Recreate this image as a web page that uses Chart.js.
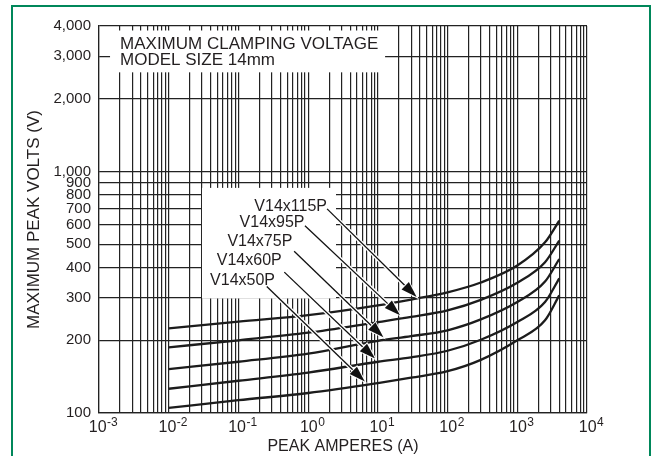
<!DOCTYPE html>
<html><head><meta charset="utf-8">
<script src="https://cdn.jsdelivr.net/npm/chart.js@4.4.1/dist/chart.umd.min.js"></script>
<style>html,body{margin:0;padding:0;background:#fff;overflow:hidden}</style>
</head><body>
<canvas id="c" width="662" height="456"></canvas>
<script>
// ---- data ----
const amps = [0.01, 0.1, 1, 10, 30, 100, 300, 1000, 2500, 4000];
const seriesNames = ['V14x115P', 'V14x95P', 'V14x75P', 'V14x60P', 'V14x50P'];
const v115 = [224, 239, 254, 279, 295, 316, 347, 408, 509, 625];
const v95  = [187, 200, 215, 238, 250, 266, 294, 346, 421, 517];
const v75  = [152, 163, 176, 199, 208, 220, 244, 288, 350, 434];
const v60  = [126, 136, 147, 163, 170, 181, 201, 238, 288, 361];
const v50  = [105, 113, 121, 133, 140, 149, 166, 200, 242, 307];
const seriesValues = [v115, v95, v75, v60, v50];

const yTickValues = [100, 200, 300, 400, 500, 600, 700, 800, 900, 1000, 2000, 3000, 4000];
const xDecades = [-3, -2, -1, 0, 1, 2, 3, 4];
const xMantissas = [1, 2, 3, 4, 5, 6, 7, 8, 9];

const titleLines = ['MAXIMUM CLAMPING VOLTAGE', 'MODEL SIZE 14mm'];
const xTitle = 'PEAK AMPERES (A)';
const yTitle = 'MAXIMUM PEAK VOLTS (V)';

// annotation anchors in data units (amps, volts)
const labelAnchor = [[1.865, 687], [0.887, 587], [0.593, 490], [0.418, 408], [0.335, 340]];
const arrowFrom   = [[1.87, 700], [0.90, 596], [0.63, 467], [0.455, 383], [0.255, 334]];
const arrowTo     = [[36, 302], [20.8, 254], [12, 206], [9.1, 168], [6.5, 135]];
const titleBox = {x: [0.00144, 12.7], y: [3832, 2572]};
const labelBox = {x: [0.030, 2.51], y: [855, 298]};

// ---- derived ----
const xTickValues = [];
xDecades.forEach(e => {
  if (e === xDecades[xDecades.length - 1]) { xTickValues.push(Math.pow(10, e)); return; }
  xMantissas.forEach(m => xTickValues.push(+(m * Math.pow(10, e)).toPrecision(6)));
});

const INK = '#231f20';
const FONT = "'Liberation Sans', Arial, Helvetica, sans-serif";
Chart.defaults.font.family = FONT;
Chart.defaults.color = INK;

const datasets = seriesNames.map((n, i) => ({
  label: n,
  data: amps.map((a, j) => ({x: a, y: seriesValues[i][j]})),
  borderColor: '#1c1c1c',
  borderWidth: 2.3,
  pointRadius: 0,
  fill: false,
  cubicInterpolationMode: 'monotone'
}));

function rectPx(chart, box) {
  const xs = chart.scales.x, ys = chart.scales.y;
  const x1 = xs.getPixelForValue(box.x[0]), x2 = xs.getPixelForValue(box.x[1]);
  const y1 = ys.getPixelForValue(box.y[0]), y2 = ys.getPixelForValue(box.y[1]);
  return {x: x1, y: y1, w: x2 - x1, h: y2 - y1};
}

function drawArrow(ctx, x1, y1, x2, y2) {
  const ang = Math.atan2(y2 - y1, x2 - x1);
  const L = 16, W = 5.2;
  const bx = x2 - L * Math.cos(ang), by = y2 - L * Math.sin(ang);
  ctx.lineCap = 'butt';
  ctx.beginPath(); ctx.moveTo(x1, y1); ctx.lineTo(bx, by);
  ctx.strokeStyle = '#fff'; ctx.lineWidth = 4; ctx.stroke();
  ctx.beginPath(); ctx.moveTo(x1, y1); ctx.lineTo(bx + 2 * Math.cos(ang), by + 2 * Math.sin(ang));
  ctx.strokeStyle = '#111'; ctx.lineWidth = 1.3; ctx.stroke();
  const px = -Math.sin(ang), py = Math.cos(ang);
  ctx.beginPath();
  ctx.moveTo(x2, y2);
  ctx.lineTo(bx + px * W, by + py * W);
  ctx.lineTo(bx - px * W, by - py * W);
  ctx.closePath();
  ctx.lineWidth = 2; ctx.strokeStyle = '#fff'; ctx.stroke();
  ctx.fillStyle = '#111'; ctx.fill();
}

const decorPlugin = {
  id: 'decor',
  beforeDraw(chart) {
    const ctx = chart.ctx;
    ctx.save();
    ctx.fillStyle = '#fff';
    ctx.fillRect(0, 0, chart.width, chart.height);
    ctx.strokeStyle = '#00875a';
    ctx.lineWidth = 2;
    ctx.strokeRect(12, 6, chart.width - 24, chart.height + 20);
    ctx.restore();
  },
  beforeDatasetsDraw(chart) {
    const ctx = chart.ctx;
    ctx.save();
    ctx.fillStyle = '#fff';
    [titleBox, labelBox].forEach(b => {
      const r = rectPx(chart, b);
      ctx.fillRect(r.x, r.y, r.w, r.h);
    });
    ctx.restore();
  },
  afterDatasetsDraw(chart) {
    const ctx = chart.ctx, xs = chart.scales.x, ys = chart.scales.y;
    ctx.save();
    const r = rectPx(chart, titleBox);
    ctx.font = '17px ' + FONT;
    ctx.fillStyle = INK;
    ctx.textAlign = 'left';
    ctx.textBaseline = 'alphabetic';
    titleLines.forEach((t, i) => ctx.fillText(t, r.x + 10, r.y + 18 + i * 16.6));
    seriesNames.forEach((n, i) => {
      drawArrow(ctx,
        xs.getPixelForValue(arrowFrom[i][0]), ys.getPixelForValue(arrowFrom[i][1]),
        xs.getPixelForValue(arrowTo[i][0]), ys.getPixelForValue(arrowTo[i][1]));
    });
    ctx.font = '16px ' + FONT;
    ctx.fillStyle = INK;
    ctx.textAlign = 'right';
    seriesNames.forEach((n, i) => {
      ctx.fillText(n, xs.getPixelForValue(labelAnchor[i][0]), ys.getPixelForValue(labelAnchor[i][1]));
    });
    ctx.restore();
  },
  afterDraw(chart) {
    const ctx = chart.ctx, xs = chart.scales.x;
    ctx.save();
    ctx.fillStyle = INK;
    ctx.textAlign = 'left';
    ctx.textBaseline = 'alphabetic';
    xDecades.forEach(e => {
      const px = xs.getPixelForValue(Math.pow(10, e)) + 4;
      ctx.font = '16px ' + FONT;
      const wb = ctx.measureText('10').width;
      ctx.font = '12px ' + FONT;
      const exp = String(e);
      const we = ctx.measureText(exp).width;
      const start = px - (wb + we) / 2;
      ctx.font = '16px ' + FONT;
      ctx.fillText('10', start, xs.top + 19);
      ctx.font = '12px ' + FONT;
      ctx.fillText(exp, start + wb + 0.5, xs.top + 13);
    });
    ctx.restore();
  }
};

new Chart(document.getElementById('c'), {
  type: 'line',
  data: {datasets},
  options: {
    responsive: false,
    animation: false,
    devicePixelRatio: 1,
    layout: {padding: {left: 0, right: 75, top: 26, bottom: 0}},
    plugins: {legend: {display: false}, tooltip: {enabled: false}},
    scales: {
      x: {
        type: 'logarithmic',
        min: 0.001, max: 10000,
        afterBuildTicks: s => { s.ticks = xTickValues.map(v => ({value: v})); },
        afterFit: s => { s.height = 43; },
        ticks: {display: false},
        grid: {color: '#222', lineWidth: 1.2, drawTicks: false},
        border: {display: true, color: '#222', width: 1.2},
        title: {display: true, text: xTitle, font: {size: 16}, color: INK, padding: {top: 0, bottom: 0}}
      },
      y: {
        type: 'logarithmic',
        min: 100, max: 4000,
        afterBuildTicks: s => { s.ticks = yTickValues.map(v => ({value: v})); },
        afterFit: s => { s.width = 99; },
        ticks: {
          autoSkip: false, padding: 8, color: INK, font: {size: 15},
          callback: v => Number(v).toLocaleString('en-US')
        },
        grid: {color: '#222', lineWidth: 1.2, drawTicks: false},
        border: {display: true, color: '#222', width: 1.2},
        title: {display: true, text: yTitle, font: {size: 17}, color: INK, padding: {top: 24, bottom: 0}}
      }
    }
  },
  plugins: [decorPlugin]
});
</script>
</body></html>
